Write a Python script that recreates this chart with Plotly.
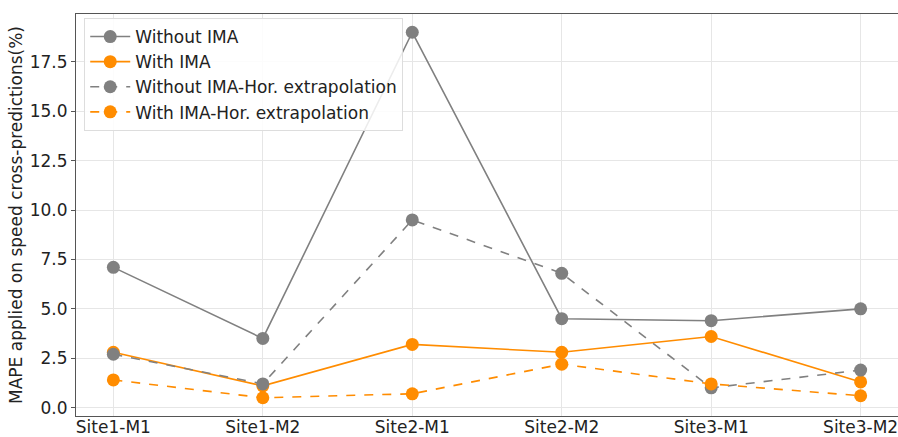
import plotly.graph_objects as go

categories = ["Site1-M1", "Site1-M2", "Site2-M1", "Site2-M2", "Site3-M1", "Site3-M2"]
without_ima = [7.1, 3.5, 19.0, 4.5, 4.4, 5.0]
with_ima = [2.8, 1.1, 3.2, 2.8, 3.6, 1.3]
without_ima_hor = [2.7, 1.2, 9.5, 6.8, 1.0, 1.9]
with_ima_hor = [1.4, 0.5, 0.7, 2.2, 1.2, 0.6]

GREY = "#808080"
ORANGE = "#FF8C00"
xs = list(range(len(categories)))

fig = go.Figure()
series = [
    ("Without IMA", without_ima, GREY, "solid"),
    ("With IMA", with_ima, ORANGE, "solid"),
    ("Without IMA-Hor. extrapolation", without_ima_hor, GREY, "dash"),
    ("With IMA-Hor. extrapolation", with_ima_hor, ORANGE, "dash"),
]
for name, vals, col, dash in series:
    fig.add_trace(go.Scatter(
        x=xs, y=vals, name=name, mode="lines+markers",
        line=dict(color=col, width=1.6, dash=dash),
        marker=dict(color=col, size=13),
    ))

font = "DejaVu Sans, sans-serif"
fig.update_layout(
    width=898, height=437,
    margin=dict(l=76, r=0, t=14, b=21),
    plot_bgcolor="white", paper_bgcolor="white",
    font=dict(family=font, size=17, color="#222"),
    showlegend=True,
    legend=dict(
        x=0.01, y=0.99, xanchor="left", yanchor="top",
        bgcolor="rgba(255,255,255,0.85)", bordercolor="#dddddd", borderwidth=1,
        font=dict(size=17, family=font, color="#222"),
        tracegroupgap=0, itemwidth=40,
    ),
    xaxis=dict(
        range=[-0.25, 5.25], tickmode="array", tickvals=xs, ticktext=categories,
        showgrid=True, gridcolor="#e6e6e6", gridwidth=1,
        showline=True, linecolor="#555", linewidth=1, mirror=True,
        ticks="", zeroline=False, ticklabelstandoff=-4,
        ticklabeloverflow="allow",
        tickfont=dict(size=17), automargin=False,
    ),
    yaxis=dict(
        range=[-0.425, 19.925], tickmode="array",
        tickvals=[0, 2.5, 5, 7.5, 10, 12.5, 15, 17.5],
        ticktext=["0.0", "2.5", "5.0", "7.5", "10.0", "12.5", "15.0", "17.5"],
        showgrid=True, gridcolor="#e6e6e6", gridwidth=1,
        showline=True, linecolor="#555", linewidth=1, mirror=True,
        ticks="outside", ticklen=4, tickcolor="#555", zeroline=False,
        tickfont=dict(size=17), automargin=False,
        title=dict(text="MAPE applied on speed cross-predictions(%)", font=dict(size=17), standoff=2),
    ),
)

fig.write_html("out.html")
